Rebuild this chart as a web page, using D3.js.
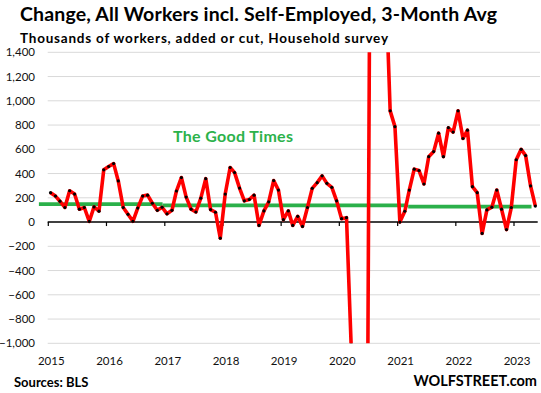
<!DOCTYPE html>
<html>
<head>
<meta charset="utf-8">
<script src="https://cdn.jsdelivr.net/npm/d3@7.9.0/dist/d3.min.js"></script>
<style>
  html, body { margin: 0; padding: 0; background: #fff; }
  svg { display: block; font-family: Lato, "Open Sans", sans-serif; }
</style>
</head>
<body>
<svg id="chart" width="541" height="393"></svg>
<script>
// Monthly values, Jan 2015 .. May 2023 (thousands, 3-month average)
const startMonth = new Date(2015, 0, 15);
const values = [
  242, 214, 172, 120, 258, 231, 106, 120, 5, 125, 90, 431,        // 2015
  458, 482, 339, 120, 64, 6, 115, 214, 222, 155, 97, 122,         // 2016
  68, 97, 256, 367, 206, 106, 83, 197, 358, 103, 81, -133,        // 2017
  231, 450, 408, 280, 175, 186, 222, -28, 92, 167, 342, 264,      // 2018
  20, 92, -28, 47, -36, 120, 278, 325, 381, 319, 286, 175,        // 2019
  28, 36, -1010, -8437, -7172, -4530, 3376, 3349, 1794, 2091, 917, 787, // 2020
  0, 89, 264, 436, 425, 314, 539, 581, 733, 539, 778, 742,        // 2021
  917, 689, 758, 292, 242, -94, 100, 123, 264, 106, -62, 120,     // 2022
  514, 600, 548, 298, 132                                         // 2023
];

// "The Good Times" reference line: segment boundaries and levels
const goodDates = [new Date(2014, 10, 3), new Date(2016, 11, 18), new Date(2021, 2, 8), new Date(2023, 3, 21)];
const goodValues = [148, 137, 128];

const yTicks = [-1000, -800, -600, -400, -200, 0, 200, 400, 600, 800, 1000, 1200, 1400];
const yearTicks = d3.range(2015, 2024).map(y => new Date(y, 0, 1));

const data = values.map((v, i) => ({
  date: d3.timeMonth.offset(startMonth, i),
  value: v
}));

const svg = d3.select('#chart');

// scales
const x = d3.scaleTime()
  .domain([new Date(2015, 0, 1), new Date(2023, 0, 1)])
  .range([48.3, 514]);
const y = d3.scaleLinear()
  .domain([-1000, 1400])
  .range([343.3, 52.3]);

const plotLeft = 47.7, plotRight = 540;

// titles (stretched a bit to match the Calibri widths of the original)
svg.append('text')
  .attr('x', 20).attr('y', 21)
  .attr('font-size', 19.5).attr('font-weight', 'bold').attr('fill', '#000')
  .attr('textLength', 477).attr('lengthAdjust', 'spacing')
  .text('Change, All Workers incl. Self-Employed, 3-Month Avg');
svg.append('text')
  .attr('x', 20).attr('y', 43)
  .attr('font-size', 13.5).attr('font-weight', 'bold').attr('fill', '#000')
  .attr('textLength', 368).attr('lengthAdjust', 'spacing')
  .text('Thousands of workers, added or cut, Household survey');

// gridlines
svg.append('g')
  .selectAll('line')
  .data(yTicks.filter(d => d !== 0))
  .join('line')
  .attr('x1', plotLeft).attr('x2', plotRight)
  .attr('y1', d => y(d)).attr('y2', d => y(d))
  .attr('stroke', '#d9d9d9').attr('stroke-width', 1);

// y labels
svg.append('g')
  .selectAll('text')
  .data(yTicks)
  .join('text')
  .attr('x', 35).attr('y', d => y(d))
  .attr('dy', '0.35em')
  .attr('text-anchor', 'end')
  .attr('font-size', 11.5).attr('fill', '#111')
  .text(d => d3.format(',')(d));

// zero axis with year ticks
svg.append('line')
  .attr('x1', plotLeft).attr('x2', 537.7)
  .attr('y1', y(0)).attr('y2', y(0))
  .attr('stroke', '#000').attr('stroke-width', 1.5);
svg.append('g')
  .selectAll('line')
  .data(yearTicks)
  .join('line')
  .attr('x1', d => x(d)).attr('x2', d => x(d))
  .attr('y1', y(0)).attr('y2', y(0) + 4)
  .attr('stroke', '#000').attr('stroke-width', 1.2);

// year labels
svg.append('g')
  .selectAll('text')
  .data(yearTicks)
  .join('text')
  .attr('x', d => x(d) + 3).attr('y', 365)
  .attr('text-anchor', 'middle')
  .attr('font-size', 11.5).attr('fill', '#111')
  .text(d => d.getFullYear());

// good times line
const goodSegs = goodValues.map((v, i) => [
  { date: goodDates[i], value: v },
  { date: goodDates[i + 1], value: v }
]);
svg.append('g')
  .selectAll('path')
  .data(goodSegs)
  .join('path')
  .attr('d', d3.line().x(d => x(d.date)).y(d => y(d.value)))
  .attr('stroke', '#2bb04a').attr('stroke-width', 3.8).attr('fill', 'none');

svg.append('text')
  .attr('x', 173).attr('y', 142)
  .attr('font-size', 16).attr('font-weight', 'bold').attr('fill', '#2cb24b')
  .attr('textLength', 120).attr('lengthAdjust', 'spacing')
  .text('The Good Times');

// clip to plot area
svg.append('clipPath').attr('id', 'plot-clip')
  .append('rect')
  .attr('x', plotLeft - 5).attr('y', y(1400))
  .attr('width', plotRight - plotLeft + 5).attr('height', y(-1000) - y(1400));

const plot = svg.append('g').attr('clip-path', 'url(#plot-clip)');

plot.append('path')
  .datum(data)
  .attr('d', d3.line().x(d => x(d.date)).y(d => y(d.value)))
  .attr('stroke', '#ff0000').attr('stroke-width', 3.6)
  .attr('stroke-linejoin', 'round').attr('fill', 'none');

plot.append('g')
  .selectAll('circle')
  .data(data)
  .join('circle')
  .attr('cx', d => x(d.date)).attr('cy', d => y(d.value))
  .attr('r', 1.6).attr('fill', '#000');

// footer
svg.append('text')
  .attr('x', 14).attr('y', 387)
  .attr('font-size', 13).attr('font-weight', 'bold').attr('fill', '#000')
  .text('Sources: BLS');
svg.append('text')
  .attr('x', 537).attr('y', 386)
  .attr('text-anchor', 'end')
  .attr('font-size', 14.5).attr('font-weight', 'bold').attr('fill', '#000')
  .text('WOLFSTREET.com');
</script>
</body>
</html>
